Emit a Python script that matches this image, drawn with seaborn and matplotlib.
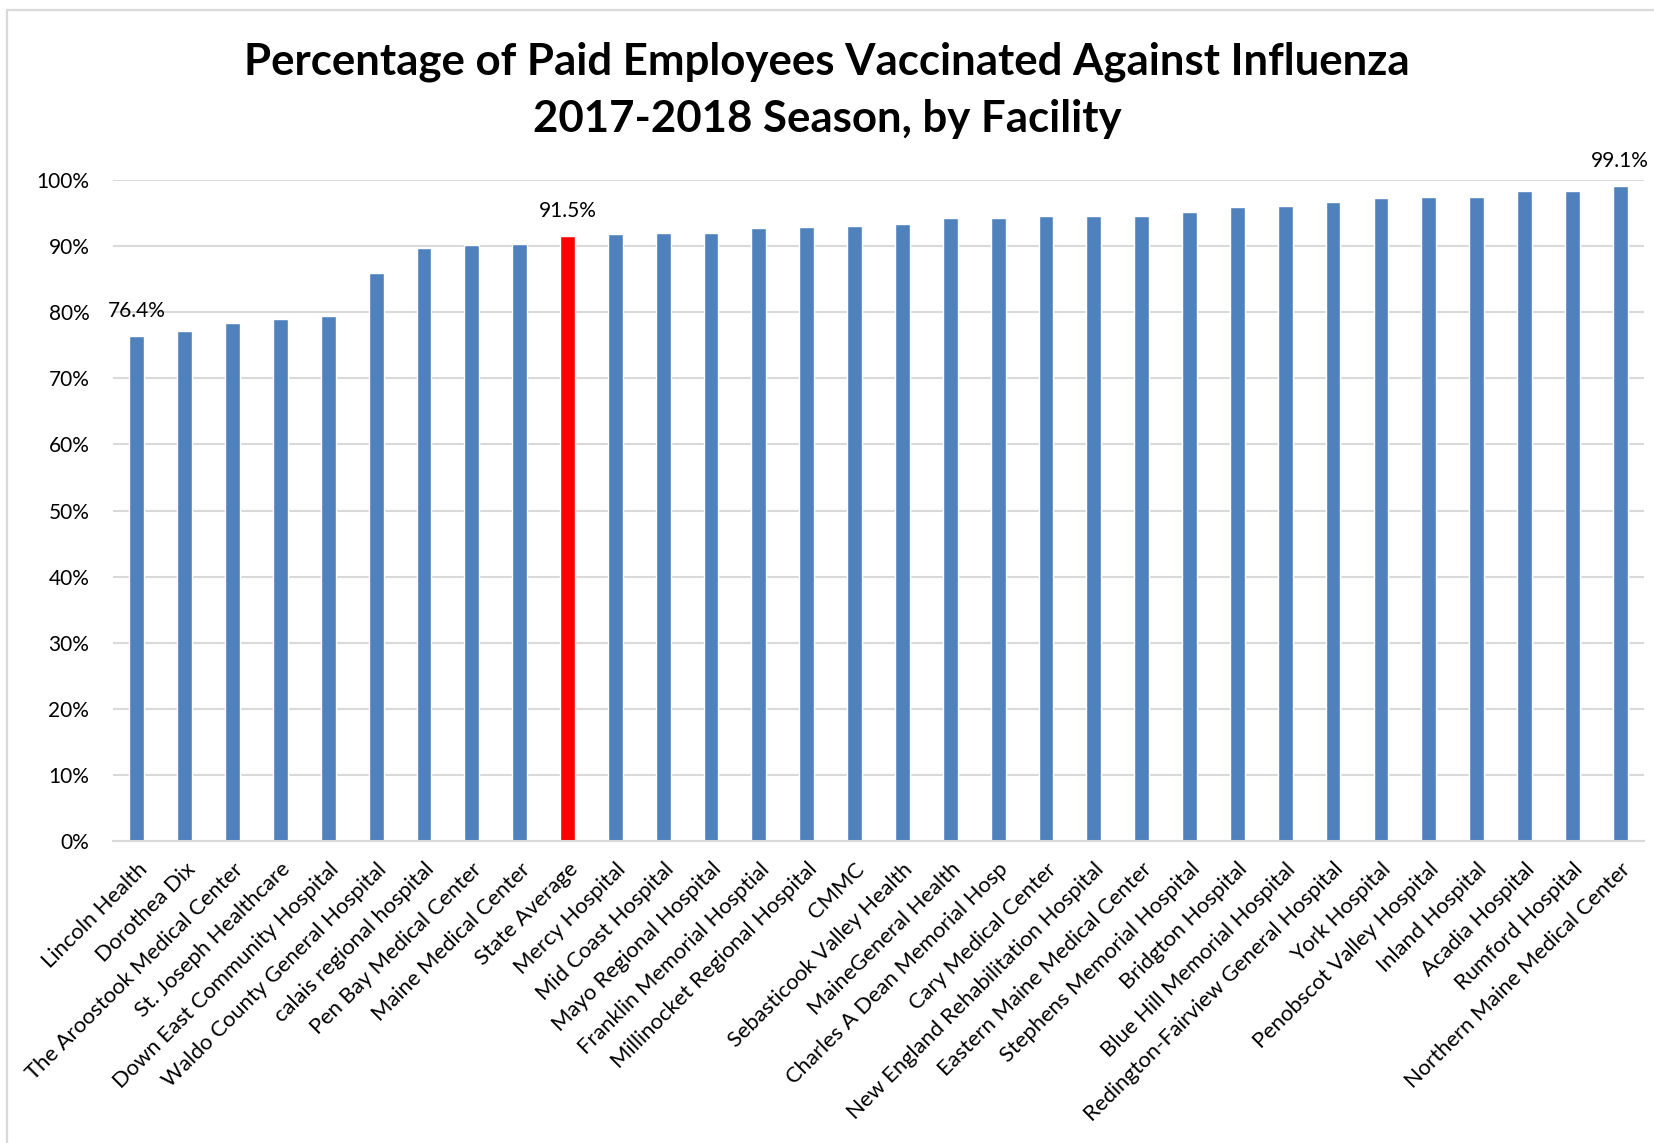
import numpy as np
import matplotlib.pyplot as plt
import seaborn as sns
import pandas as pd

facilities = [
    "Lincoln Health", "Dorothea Dix", "The Aroostook Medical Center", "St. Joseph Healthcare",
    "Down East Community Hospital", "Waldo County General Hospital", "calais regional hospital",
    "Pen Bay Medical Center", "Maine Medical Center", "State Average", "Mercy Hospital",
    "Mid Coast Hospital", "Mayo Regional Hospital", "Franklin Memorial Hosptial",
    "Millinocket Regional Hospital", "CMMC", "Sebasticook Valley Health", "MaineGeneral Health",
    "Charles A Dean Memorial Hosp", "Cary Medical Center", "New England Rehabilitation Hospital",
    "Eastern Maine Medical Center", "Stephens Memorial Hospital", "Bridgton Hospital",
    "Blue Hill Memorial Hospital", "Redington-Fairview General Hospital", "York Hospital",
    "Penobscot Valley Hospital", "Inland Hospital", "Acadia Hospital", "Rumford Hospital",
    "Northern Maine Medical Center",
]
pct_vaccinated = [
    76.4, 77.2, 78.4, 78.9, 79.5, 86.0, 89.7, 90.1, 90.3, 91.5, 91.9,
    92.0, 92.0, 92.8, 92.9, 93.0, 93.3, 94.3, 94.3, 94.5, 94.5,
    94.6, 95.2, 95.9, 96.1, 96.7, 97.3, 97.4, 97.5, 98.4, 98.4, 99.1,
]
# facilities whose value gets printed above the bar
labelled = ["Lincoln Health", "State Average", "Northern Maine Medical Center"]
highlight = "State Average"

df = pd.DataFrame({"facility": facilities, "pct": pct_vaccinated})
palette = {f: ("#FF0000" if f == highlight else "#4F81BD") for f in facilities}

sns.set_style("white")
plt.rcParams['font.family'] = ['Lato', 'DejaVu Sans']
plt.rcParams['text.color'] = 'black'
plt.rcParams['xtick.color'] = 'black'
plt.rcParams['ytick.color'] = 'black'

fig = plt.figure(figsize=(16.54, 11.43), dpi=100)
ax = fig.add_axes([0.0683, 0.2642, 0.9257, 0.5783])

sns.barplot(data=df, x="facility", y="pct", hue="facility", palette=palette,
            legend=False, width=0.31, saturation=1, ax=ax)

ax.set_xlim(-0.5, len(facilities) - 0.5)
ax.set_ylim(0, 100)
ax.set_yticks(np.arange(0, 101, 10))
ax.set_yticklabels([f"{v}%" for v in range(0, 101, 10)], fontsize=15)
ax.yaxis.grid(True, color="#D9D9D9", linewidth=1.5)
ax.set_axisbelow(True)
for s in ["top", "right", "left"]:
    ax.spines[s].set_visible(False)
ax.spines["bottom"].set_color("#D9D9D9")
ax.spines["bottom"].set_linewidth(1.5)
ax.tick_params(axis="y", length=0, pad=17)
ax.tick_params(axis="x", length=0, pad=13)
ax.set_xticks(range(len(facilities)))
ax.set_xticklabels(facilities, rotation=45, ha="right", va="top",
                   rotation_mode="anchor", fontsize=15.8)
ax.set_xlabel("")
ax.set_ylabel("")

for i, (f, v) in enumerate(zip(facilities, pct_vaccinated)):
    if f in labelled:
        ax.annotate(f"{v:.1f}%", (i, v), xytext=(0, 18), textcoords="offset points",
                    ha="center", va="center", fontsize=15)

fig.text(0.5, 0.921, "Percentage of Paid Employees Vaccinated Against Influenza\n2017-2018 Season, by Facility",
         ha="center", va="center", fontsize=31.5, fontweight="bold", linespacing=1.5)

# chart area border (left and top edges visible)
fig.add_artist(plt.Line2D([7 / 1654, 7 / 1654], [0, 1 - 10 / 1143], color="#D9D9D9", linewidth=1.6))
fig.add_artist(plt.Line2D([7 / 1654, 1], [1 - 10 / 1143, 1 - 10 / 1143], color="#D9D9D9", linewidth=1.6))

plt.savefig("out.png", dpi=100)
